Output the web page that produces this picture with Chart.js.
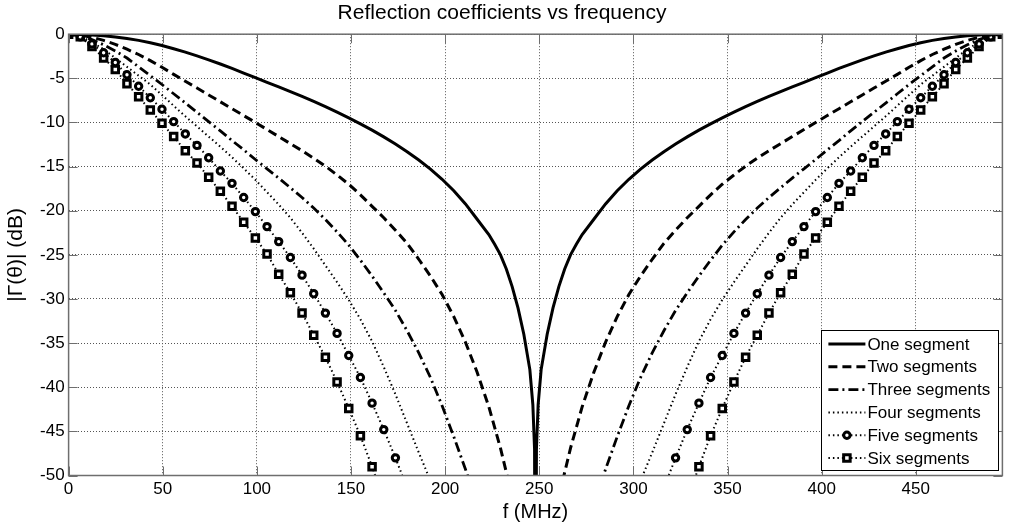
<!DOCTYPE html>
<html>
<head>
<meta charset="utf-8">
<title>Reflection coefficients vs frequency</title>
<script src="https://cdn.jsdelivr.net/npm/chart.js@4.4.1/dist/chart.umd.min.js"></script>
<style>
  html, body { margin: 0; padding: 0; background: #fff; }
  #wrap { width: 1010px; height: 527px; }
</style>
</head>
<body>
<div id="wrap"><canvas id="myChart" width="1010" height="527"></canvas></div>
<script>
// ---------------- data ----------------

// sample grid in MHz (81 points, 6.2 MHz apart)
const freq = [
    0, 6.2, 12.4, 18.6, 24.8, 31, 37.2, 43.4, 49.6, 55.8,
    62, 68.2, 74.4, 80.6, 86.8, 93, 99.2, 105.4, 111.6, 117.8,
    124, 130.2, 136.4, 142.6, 148.8, 155, 161.2, 167.4, 173.6, 179.8,
    186, 192.2, 198.4, 204.6, 210.8, 217, 223.2, 229.4, 235.6, 241.8,
    248,
    254.2, 260.4, 266.6, 272.8, 279, 285.2, 291.4, 297.6, 303.8, 310,
    316.2, 322.4, 328.6, 334.8, 341, 347.2, 353.4, 359.6, 365.8, 372,
    378.2, 384.4, 390.6, 396.8, 403, 409.2, 415.4, 421.6, 427.8, 434,
    440.2, 446.4, 452.6, 458.8, 465, 471.2, 477.4, 483.6, 489.8, 496
];

// one segment has extra points around the notch
const freqOne = [
    0, 6.2, 12.4, 18.6, 24.8, 31, 37.2, 43.4, 49.6, 55.8,
    62, 68.2, 74.4, 80.6, 86.8, 93, 99.2, 105.4, 111.6, 117.8,
    124, 130.2, 136.4, 142.6, 148.8, 155, 161.2, 167.4, 173.6, 179.8,
    186, 192.2, 198.4, 204.6, 210.8, 217, 223.2, 226.3, 229.4, 232.5,
    235.6, 238.7, 241.8,
    245, 246.6, 247.5, 248, 248.5, 249.4, 251,
    254.2, 257.3, 260.4, 263.5, 266.6, 269.7, 272.8, 279, 285.2, 291.4,
    297.6, 303.8, 310, 316.2, 322.4, 328.6, 334.8, 341, 347.2, 353.4,
    359.6, 365.8, 372, 378.2, 384.4, 390.6, 396.8, 403, 409.2, 415.4,
    421.6, 427.8, 434, 440.2, 446.4, 452.6, 458.8, 465, 471.2, 477.4,
    483.6, 489.8, 496
];

const oneSeg = [
    0, -0.02, -0.08, -0.18, -0.32, -0.48, -0.7, -0.96, -1.28, -1.65,
    -2.03, -2.45, -2.9, -3.38, -3.88, -4.4, -4.93, -5.45, -5.97, -6.5,
    -7.05, -7.62, -8.21, -8.83, -9.48, -10.16, -10.87, -11.63, -12.44, -13.31,
    -14.25, -15.29, -16.44, -17.74, -19.23, -20.97, -22.7, -23.8, -25.0, -26.6,
    -28.6, -31.0, -34.0,
    -38.0, -42.0, -47.0, -80, -47.0, -42.0, -38.0,
    -34.0, -31.0, -28.6, -26.6, -25.0, -23.8, -22.7, -20.97, -19.23, -17.74,
    -16.44, -15.29, -14.25, -13.31, -12.44, -11.63, -10.87, -10.16, -9.48, -8.83,
    -8.21, -7.62, -7.05, -6.5, -5.97, -5.45, -4.93, -4.4, -3.88, -3.38,
    -2.9, -2.45, -2.03, -1.65, -1.28, -0.96, -0.7, -0.48, -0.32, -0.18,
    -0.08, -0.02, 0
];

const twoSeg = [
    0, -0.1, -0.35, -0.7, -1.15, -1.7, -2.3, -3.0, -3.75, -4.55,
    -5.33, -6.1, -6.88, -7.66, -8.44, -9.22, -10.0, -10.8, -11.6, -12.4,
    -13.2, -14.05, -14.95, -15.95, -17.0, -18.2, -19.5, -20.8, -22.2, -23.7,
    -25.5, -27.4, -29.5, -32.0, -34.9, -38.3, -42.2, -46.9, -52.4, -60,
    null,
    -60, -52.4, -46.9, -42.2, -38.3, -34.9, -32.0, -29.5, -27.4, -25.5,
    -23.7, -22.2, -20.8, -19.5, -18.2, -17.0, -15.95, -14.95, -14.05, -13.2,
    -12.4, -11.6, -10.8, -10.0, -9.22, -8.44, -7.66, -6.88, -6.1, -5.33,
    -4.55, -3.75, -3.0, -2.3, -1.7, -1.15, -0.7, -0.35, -0.1, 0
];

const threeSeg = [
    0, -0.2, -0.6, -1.2, -1.9, -2.7, -3.7, -4.7, -5.7, -6.75,
    -7.8, -8.85, -9.9, -10.95, -12.05, -13.1, -14.2, -15.25, -16.3, -17.4,
    -18.5, -19.7, -21.0, -22.4, -23.9, -25.6, -27.4, -29.3, -31.3, -33.6,
    -36.1, -38.9, -42.1, -45.6, -49.3, -53.2,
    null, null, null, null, null, null, null, null, null,
    -53.2, -49.3, -45.6, -42.1, -38.9, -36.1,
    -33.6, -31.3, -29.3, -27.4, -25.6, -23.9, -22.4, -21.0, -19.7, -18.5,
    -17.4, -16.3, -15.25, -14.2, -13.1, -12.05, -10.95, -9.9, -8.85, -7.8,
    -6.75, -5.7, -4.7, -3.7, -2.7, -1.9, -1.2, -0.6, -0.2, 0
];

const fourSeg = [
    0, -0.2, -0.9, -1.7, -2.7, -3.7, -4.7, -5.7, -6.9, -8.1,
    -9.3, -10.45, -11.6, -12.75, -13.95, -15.2, -16.5, -17.9, -19.3, -20.8,
    -22.5, -24.3, -26.2, -28.1, -30.1, -32.3, -34.8, -37.7, -40.8, -44.1,
    -47.4, -50.6, -54.0,
    null, null, null, null, null,
    null, null, null, null, null,
    null, null, null, null, null,
    -54.0, -50.6, -47.4,
    -44.1, -40.8, -37.7, -34.8, -32.3, -30.1, -28.1, -26.2, -24.3, -22.5,
    -20.8, -19.3, -17.9, -16.5, -15.2, -13.95, -12.75, -11.6, -10.45, -9.3,
    -8.1, -6.9, -5.7, -4.7, -3.7, -2.7, -1.7, -0.9, -0.2, 0
];

const fiveSeg = [
    0, -0.3, -1.1, -2.1, -3.2, -4.6, -5.9, -7.2, -8.5, -9.9,
    -11.3, -12.6, -14.0, -15.5, -16.9, -18.5, -20.1, -21.8, -23.5, -25.3,
    -27.3, -29.4, -31.6, -33.9, -36.4, -38.9, -41.8, -44.8, -48.0, -51.4,
    null, null, null, null, null, null, null,
    null, null, null, null, null, null, null,
    null, null, null, null, null, null, null,
    -51.4, -48.0, -44.8, -41.8, -38.9, -36.4, -33.9, -31.6, -29.4, -27.3,
    -25.3, -23.5, -21.8, -20.1, -18.5, -16.9, -15.5, -14.0, -12.6, -11.3,
    -9.9, -8.5, -7.2, -5.9, -4.6, -3.2, -2.1, -1.1, -0.3, 0
];

const sixSeg = [
    0, -0.3, -1.4, -2.7, -4.0, -5.6, -7.1, -8.6, -10.1, -11.6,
    -13.2, -14.6, -16.2, -17.8, -19.5, -21.3, -23.1, -24.9, -27.2, -29.3,
    -31.6, -34.1, -36.6, -39.4, -42.4, -45.5, -49.0, -52.8,
    null, null, null, null, null,
    null, null, null, null, null,
    null, null, null, null, null,
    null, null, null, null, null,
    null, null, null, null, null,
    -52.8, -49.0, -45.5, -42.4, -39.4, -36.6, -34.1, -31.6, -29.3, -27.2,
    -24.9, -23.1, -21.3, -19.5, -17.8, -16.2, -14.6, -13.2, -11.6, -10.1,
    -8.6, -7.1, -5.6, -4.0, -2.7, -1.4, -0.3, 0
];

const seriesNames = ["One segment", "Two segments", "Three segments",
                     "Four segments", "Five segments", "Six segments"];

const xTicks = [0, 50, 100, 150, 200, 250, 300, 350, 400, 450];
const yTicks = [-50, -45, -40, -35, -30, -25, -20, -15, -10, -5, 0];

// ---------------- helpers ----------------

function toPoints(xs, ys) {
    return xs.map((x, i) => ({ x: x, y: ys[i] }));
}

const FONT = '"Liberation Sans", Arial, Helvetica, sans-serif';
const AXIS_COLOR = "#6e6e6e";

// frame + inward tick marks (matlab style box)
const framePlugin = {
    id: "frame",
    afterDatasetsDraw(chart) {
        const { ctx, chartArea: a, scales } = chart;
        ctx.save();
        ctx.strokeStyle = AXIS_COLOR;
        ctx.lineWidth = 1.5;
        ctx.setLineDash([]);
        ctx.strokeRect(a.left, a.top, a.right - a.left, a.bottom - a.top);

        ctx.lineWidth = 1;
        ctx.beginPath();
        xTicks.forEach(v => {
            const px = Math.round(scales.x.getPixelForValue(v)) + 0.5;
            ctx.moveTo(px, a.bottom); ctx.lineTo(px, a.bottom - 9);
            ctx.moveTo(px, a.top); ctx.lineTo(px, a.top + 9);
        });
        yTicks.forEach(v => {
            const py = Math.round(scales.y.getPixelForValue(v)) + 0.5;
            ctx.moveTo(a.left, py); ctx.lineTo(a.left + 9, py);
            ctx.moveTo(a.right, py); ctx.lineTo(a.right - 9, py);
        });
        ctx.stroke();
        ctx.restore();
    }
};

function drawMarker(ctx, ds, x, y) {
    if (!ds.pointRadius) return;
    ctx.save();
    ctx.setLineDash([]);
    ctx.lineWidth = ds.pointBorderWidth;
    ctx.strokeStyle = "#000";
    ctx.fillStyle = "#fff";
    ctx.beginPath();
    if (ds.pointStyle === "rect") {
        const s = ds.pointRadius * Math.SQRT1_2;
        ctx.rect(x - s, y - s, 2 * s, 2 * s);
    } else {
        ctx.arc(x, y, ds.pointRadius, 0, Math.PI * 2);
    }
    ctx.fill();
    ctx.stroke();
    ctx.restore();
}

// legend box in the lower right corner, drawn over everything
const legendPlugin = {
    id: "boxLegend",
    afterDraw(chart) {
        const { ctx, chartArea: a } = chart;
        const w = 177, h = 140;
        const x0 = a.right - 4 - w;
        const y0 = a.bottom - 5.5 - h;
        ctx.save();
        ctx.fillStyle = "#fff";
        ctx.fillRect(x0, y0, w, h);
        ctx.strokeStyle = "#000";
        ctx.lineWidth = 1;
        ctx.strokeRect(Math.round(x0) + 0.5, Math.round(y0) + 0.5, w, h);

        chart.data.datasets.forEach((ds, i) => {
            const y = y0 + 14 + i * 22.8;
            ctx.save();
            ctx.strokeStyle = "#000";
            ctx.lineWidth = ds.borderWidth;
            ctx.setLineDash(ds.borderDash || []);
            ctx.beginPath();
            ctx.moveTo(x0 + 7, y);
            ctx.lineTo(x0 + 44, y);
            ctx.stroke();
            ctx.restore();
            drawMarker(ctx, ds, x0 + 25.5, y);

            ctx.fillStyle = "#000";
            ctx.font = "17px " + FONT;
            ctx.textBaseline = "middle";
            ctx.textAlign = "left";
            ctx.fillText(ds.label, x0 + 46, y + 1);
        });
        ctx.restore();
    }
};

// ---------------- chart ----------------

document.addEventListener("DOMContentLoaded", function () {
    Chart.defaults.font.family = FONT;
    Chart.defaults.color = "#000";

    const ctx = document.getElementById("myChart").getContext("2d");

    new Chart(ctx, {
        type: "line",
        data: {
            datasets: [
                {
                    label: seriesNames[0],
                    data: toPoints(freqOne, oneSeg),
                    borderColor: "#000",
                    borderWidth: 3,
                    pointRadius: 0
                },
                {
                    label: seriesNames[1],
                    data: toPoints(freq, twoSeg),
                    borderColor: "#000",
                    borderWidth: 3,
                    borderDash: [9, 5],
                    pointRadius: 0
                },
                {
                    label: seriesNames[2],
                    data: toPoints(freq, threeSeg),
                    borderColor: "#000",
                    borderWidth: 2.8,
                    borderDash: [10, 4, 2, 4],
                    pointRadius: 0
                },
                {
                    label: seriesNames[3],
                    data: toPoints(freq, fourSeg),
                    borderColor: "#000",
                    borderWidth: 2,
                    borderDash: [1.5, 3],
                    pointRadius: 0
                },
                {
                    label: seriesNames[4],
                    data: toPoints(freq, fiveSeg),
                    borderColor: "#000",
                    borderWidth: 2,
                    borderDash: [1.5, 3],
                    pointStyle: "circle",
                    pointRadius: 3.2,
                    pointBorderWidth: 3,
                    pointBackgroundColor: "#fff",
                    pointBorderColor: "#000"
                },
                {
                    label: seriesNames[5],
                    data: toPoints(freq, sixSeg),
                    borderColor: "#000",
                    borderWidth: 2,
                    borderDash: [1.5, 3],
                    pointStyle: "rect",
                    pointRadius: 4.6,
                    pointBorderWidth: 3,
                    pointBackgroundColor: "#fff",
                    pointBorderColor: "#000"
                }
            ]
        },
        options: {
            responsive: false,
            animation: false,
            devicePixelRatio: 1,
            spanGaps: false,
            layout: { padding: { left: 0, right: 6, top: 0, bottom: 0 } },
            elements: { line: { tension: 0, borderCapStyle: "butt" } },
            scales: {
                x: {
                    type: "linear",
                    min: 0,
                    max: 496,
                    afterBuildTicks: s => { s.ticks = xTicks.map(v => ({ value: v })); },
                    afterFit: s => { s.height = 51.5; },
                    ticks: {
                        font: { size: 17 },
                        color: "#000",
                        padding: 4,
                        maxRotation: 0,
                        autoSkip: false,
                        callback: v => String(v)
                    },
                    grid: { color: "#555", lineWidth: 1, drawTicks: false },
                    border: { display: false, dash: [1, 2] },
                    title: {
                        display: true,
                        text: "f (MHz)",
                        font: { size: 20 },
                        color: "#000",
                        padding: { top: 0, bottom: 3 }
                    }
                },
                y: {
                    type: "linear",
                    min: -50,
                    max: 0,
                    afterBuildTicks: s => { s.ticks = yTicks.map(v => ({ value: v })); },
                    afterFit: s => { s.width = 68.6; },
                    ticks: {
                        font: { size: 17 },
                        color: "#000",
                        padding: 4,
                        autoSkip: false,
                        callback: v => String(v)
                    },
                    grid: { color: "#555", lineWidth: 1, drawTicks: false },
                    border: { display: false, dash: [1, 2] },
                    title: {
                        display: true,
                        text: "|\u0393(\u03B8)| (dB)",
                        font: { size: 21 },
                        color: "#000",
                        padding: { top: 4, bottom: 0 }
                    }
                }
            },
            plugins: {
                legend: { display: false },
                tooltip: { enabled: false },
                title: {
                    display: true,
                    text: "Reflection coefficients vs frequency",
                    font: { size: 21, weight: "normal" },
                    color: "#000",
                    padding: { top: 1, bottom: 8 }
                }
            }
        },
        plugins: [framePlugin, legendPlugin]
    });
});
</script>
</body>
</html>
